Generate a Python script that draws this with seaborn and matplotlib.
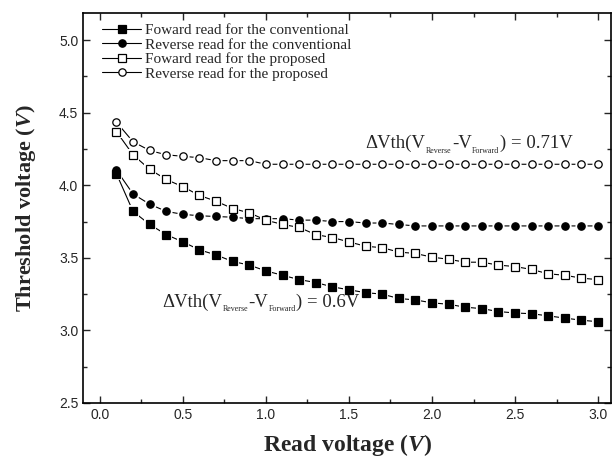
import numpy as np
import pandas as pd
import matplotlib
matplotlib.use('Agg')
import matplotlib.pyplot as plt
from matplotlib.lines import Line2D
import seaborn as sns

# read voltage (V)
read_v = [0.1, 0.2, 0.3, 0.4, 0.5, 0.6, 0.7, 0.8, 0.9, 1.0,
          1.1, 1.2, 1.3, 1.4, 1.5, 1.6, 1.7, 1.8, 1.9, 2.0,
          2.1, 2.2, 2.3, 2.4, 2.5, 2.6, 2.7, 2.8, 2.9, 3.0]

fwd_conv = [4.08, 3.82, 3.73, 3.66, 3.61, 3.555, 3.52, 3.475, 3.45, 3.41,
            3.38, 3.35, 3.33, 3.30, 3.28, 3.26, 3.25, 3.22, 3.21, 3.19,
            3.18, 3.16, 3.15, 3.13, 3.12, 3.115, 3.10, 3.085, 3.07, 3.06]
rev_conv = [4.105, 3.94, 3.87, 3.82, 3.80, 3.79, 3.785, 3.78, 3.77, 3.77,
            3.77, 3.76, 3.76, 3.75, 3.75, 3.74, 3.74, 3.73, 3.72, 3.72,
            3.72, 3.72, 3.72, 3.72, 3.72, 3.72, 3.72, 3.72, 3.72, 3.72]
fwd_prop = [4.37, 4.21, 4.11, 4.04, 3.99, 3.93, 3.89, 3.84, 3.81, 3.76,
            3.73, 3.71, 3.66, 3.64, 3.61, 3.58, 3.57, 3.54, 3.53, 3.505,
            3.49, 3.47, 3.47, 3.45, 3.44, 3.42, 3.39, 3.38, 3.36, 3.35]
rev_prop = [4.435, 4.30, 4.24, 4.21, 4.20, 4.19, 4.17, 4.17, 4.17, 4.145,
            4.145, 4.145, 4.145, 4.145, 4.145, 4.145, 4.145, 4.145, 4.145, 4.145,
            4.145, 4.145, 4.145, 4.145, 4.145, 4.145, 4.145, 4.145, 4.145, 4.145]

labels = ['Foward read for the conventional', 'Reverse read for the conventional',
          'Foward read for the proposed', 'Reverse read for the proposed']

sns.set_style('ticks')
plt.rcParams['font.family'] = ['Liberation Serif', 'DejaVu Serif']
plt.rcParams['mathtext.fontset'] = 'custom'
plt.rcParams['mathtext.rm'] = 'Liberation Serif'
plt.rcParams['mathtext.it'] = 'Liberation Serif:italic'
plt.rcParams['mathtext.bf'] = 'Liberation Serif:bold'
plt.rcParams['mathtext.bfit'] = 'Liberation Serif:bold:italic'

fig = plt.figure(figsize=(6.12, 4.68), dpi=100)
ax = fig.add_axes([0.136, 0.139, 0.863, 0.834])

series = [(fwd_conv, 's', 'black'), (rev_conv, 'o', 'black'),
          (fwd_prop, 's', 'white'), (rev_prop, 'o', 'white')]
handles = []
for vals, mk, fc in series:
    df = pd.DataFrame({'x': read_v, 'y': vals})
    # thin connecting line
    sns.lineplot(data=df, x='x', y='y', ax=ax, color='black', lw=0.8, zorder=2)
    # white halo so the line shows as short dashes between markers
    sns.lineplot(data=df, x='x', y='y', ax=ax, linestyle='', marker=mk,
                 markersize=8.8, markerfacecolor='white', markeredgecolor='white',
                 markeredgewidth=0, zorder=3)
    sns.lineplot(data=df, x='x', y='y', ax=ax, linestyle='', marker=mk,
                 markersize=5.3, markerfacecolor=fc, markeredgecolor='black',
                 markeredgewidth=0.9, zorder=4)
    handles.append(Line2D([], [], color='black', lw=0.8, marker=mk, markersize=5.3,
                          markerfacecolor=fc, markeredgecolor='black',
                          markeredgewidth=0.9))

ax.set_xlim(-0.1, 3.08)
ax.set_ylim(2.5, 5.19)
ax.set_xticks(np.arange(0, 3.01, 0.5))
ax.set_yticks(np.arange(2.5, 5.01, 0.5))
ax.set_xticks(np.arange(0.25, 3.05, 0.5), minor=True)
ax.set_yticks(np.arange(2.75, 5.2, 0.5), minor=True)
ax.tick_params(which='both', direction='in', top=True, right=True, width=1)
ax.tick_params(which='major', length=5)
ax.tick_params(which='minor', length=3)
for t in ax.get_xticklabels() + ax.get_yticklabels():
    t.set_fontfamily('Liberation Sans')
    t.set_fontsize(10)
for s in ax.spines.values():
    s.set_linewidth(1.2)
    s.set_color('black')

ax.set_xlabel(r'Read voltage ($\mathbfit{V}$)', fontsize=17, fontweight='bold', labelpad=7)
ax.set_ylabel(r'Threshold voltage ($\mathbfit{V}$)', fontsize=16, fontweight='bold', labelpad=15)


def delta_label(x, y, value):
    # chain pieces so the subscripts can be much smaller than the main text
    parts = [('Reverse', 5.8, -1.7), ('-V', 13.5, 1.7),
             ('Forward', 5.8, -1.7), (') = ' + value, 13.5, 1.7)]
    t = ax.text(x, y, '\u0394Vth(V', fontsize=13.5, va='baseline', ha='left')
    for s, fs, dy in parts:
        t = ax.annotate(s, xy=(1, 0), xycoords=t, xytext=(0.3, dy),
                        textcoords='offset points', fontsize=fs,
                        va='bottom', ha='left')


delta_label(1.60, 4.255, '0.71V')
delta_label(0.376, 3.165, '0.6V')

ax.legend(handles, labels, loc='upper left', frameon=False, fontsize=11,
          labelspacing=0.05, handlelength=2.6, handletextpad=0.25,
          borderaxespad=0, borderpad=0, bbox_to_anchor=(0.035, 0.972))

fig.savefig('out.png', dpi=100)
